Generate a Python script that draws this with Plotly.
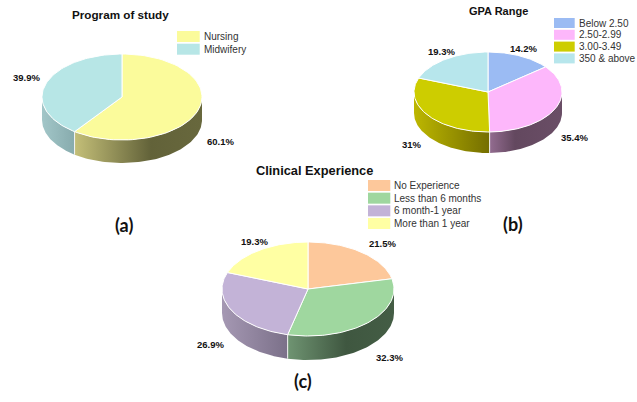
import numpy as np
from plotly import graph_objects as go

# values
program_labels = ["Nursing", "Midwifery"]
program_values = [60.1, 39.9]
gpa_labels = ["Below 2.50", "2.50-2.99", "3.00-3.49", "350 & above"]
gpa_values = [14.2, 35.4, 31, 19.3]
clinical_labels = ["No Experience", "Less than 6 months", "6 month-1 year", "More than 1 year"]
clinical_values = [21.5, 32.3, 26.9, 19.3]

program_colors = ["#FBFB9B", "#B7E6E6"]
gpa_colors = ["#9BBBF3", "#FDB7FB", "#CDCD00", "#B7E6EC"]
clinical_colors = ["#FDC89B", "#9FD79F", "#C3B3D7", "#FFFFA3"]

# side wall gradients per slice, None where the slice has no visible wall
program_walls = [
    [[0, "#C4BF78"], [0.6, "#626239"], [1, "#68683D"]],
    [[0, "#A2C6C8"], [1, "#87ABAD"]],
]
gpa_walls = [
    None,
    [[0, "#936C90"], [0.35, "#63485F"], [1, "#6A4E66"]],
    [[0, "#BDB700"], [1, "#746E00"]],
    None,
]
clinical_walls = [
    None,
    [[0, "#6F9472"], [0.55, "#3F5740"], [1, "#445D45"]],
    [[0, "#A598B3"], [1, "#7B7089"]],
    None,
]

pies = [
    dict(title="Program of study", title_xy=(120, 14), title_size=11.7, labels=program_labels, values=program_values,
         colors=program_colors, walls=program_walls, cx=122, cy=97, rx=80, ry=43, depth=23,
         value_xy=[(220, 141), (26, 77)], legend_xy=(177, 31), legend_step=12.7, swatch=(22.7, 11),
         tag="(a)", tag_xy=(124, 225)),
    dict(title="GPA Range", title_xy=(498, 11), title_size=11, labels=gpa_labels, values=gpa_values,
         colors=gpa_colors, walls=gpa_walls, cx=488, cy=92, rx=74, ry=40, depth=21,
         value_xy=[(523, 48), (574, 137), (412, 144), (441, 51)], legend_xy=(554, 18), legend_step=11.8, swatch=(20.7, 10),
         tag="(b)", tag_xy=(513, 224)),
    dict(title="Clinical Experience", title_xy=(314, 170), title_size=12.8, labels=clinical_labels, values=clinical_values,
         colors=clinical_colors, walls=clinical_walls, cx=308, cy=289, rx=86, ry=47, depth=24,
         value_xy=[(382, 243), (389, 357), (210, 344), (254, 241)], legend_xy=(368, 180), legend_step=12.67, swatch=(22.3, 11),
         tag="(c)", tag_xy=(303, 381)),
]

TEXT_FONT = "Liberation Sans"
fig = go.Figure()
shapes = []
annotations = []


def arc(p, start, stop):
    t = np.radians(np.linspace(start, stop, 80))
    return p["cx"] + p["rx"] * np.sin(t), p["cy"] - p["ry"] * np.cos(t)


for p in pies:
    # angles run clockwise from 12 o'clock
    edges = np.cumsum([0] + p["values"]) / sum(p["values"]) * 360

    # walls first so the tops sit over them
    for i, wall in enumerate(p["walls"]):
        start, stop = max(edges[i], 90), min(edges[i + 1], 270)
        if wall is None or start >= stop:
            continue
        x, y = arc(p, start, stop)
        fig.add_trace(go.Scatter(
            x=np.r_[x, x[::-1], x[0]],
            y=np.r_[y, y[::-1] + p["depth"], y[0]],
            mode="lines", fill="toself",
            fillgradient=dict(type="horizontal", colorscale=wall),
            line=dict(color="rgba(255,255,255,0)", width=0),
            hoverinfo="skip", showlegend=False,
        ))
        # white seam between two walls
        if edges[i] > 90:
            fig.add_trace(go.Scatter(
                x=[x[0], x[0]], y=[y[0], y[0] + p["depth"]], mode="lines",
                line=dict(color="#F4F4F4", width=1), hoverinfo="skip", showlegend=False,
            ))

    for i, value in enumerate(p["values"]):
        x, y = arc(p, edges[i], edges[i + 1])
        fig.add_trace(go.Scatter(
            x=np.r_[p["cx"], x, p["cx"]],
            y=np.r_[p["cy"], y, p["cy"]],
            mode="lines", fill="toself", fillcolor=p["colors"][i],
            line=dict(color="#FFFFFF", width=1),
            name=p["labels"][i], text=f"{value:g}%", hoverinfo="name+text", showlegend=False,
        ))
        vx, vy = p["value_xy"][i]
        annotations.append(dict(x=vx, y=vy, text=f"{value:g}%", showarrow=False,
                                font=dict(family=TEXT_FONT, size=9.5, color="#111111", weight="bold")))

        # legend drawn by hand, the swatches are wider than plotly's own
        lx, ly = p["legend_xy"]
        sw, sh = p["swatch"]
        row = ly + i * p["legend_step"]
        shapes.append(dict(type="rect", x0=lx, x1=lx + sw, y0=row, y1=row + sh,
                           fillcolor=p["colors"][i], line=dict(width=0)))
        annotations.append(dict(x=lx + sw + 2, y=row + sh / 2, text=p["labels"][i], showarrow=False, xanchor="left",
                                font=dict(family=TEXT_FONT, size=10, color="#333333")))

    tx, ty = p["title_xy"]
    annotations.append(dict(x=tx, y=ty, text=p["title"], showarrow=False,
                            font=dict(family=TEXT_FONT, size=p["title_size"], color="#111111", weight="bold")))
    tx, ty = p["tag_xy"]
    annotations.append(dict(x=tx, y=ty, text=p["tag"], showarrow=False,
                            font=dict(family="Lato", size=18, color="#111111", weight="bold")))

# one pixel per axis unit, the three pies share the same plot area
fig.update_layout(
    width=637, height=402,
    margin=dict(l=0, r=0, t=0, b=0),
    paper_bgcolor="white", plot_bgcolor="white",
    xaxis=dict(range=[0, 637], visible=False, fixedrange=True),
    yaxis=dict(range=[402, 0], visible=False, fixedrange=True),
    shapes=shapes, annotations=annotations,
    showlegend=False,
)

fig.write_html("out.html", config=dict(displayModeBar=False), post_script="document.body.style.margin='0';")
